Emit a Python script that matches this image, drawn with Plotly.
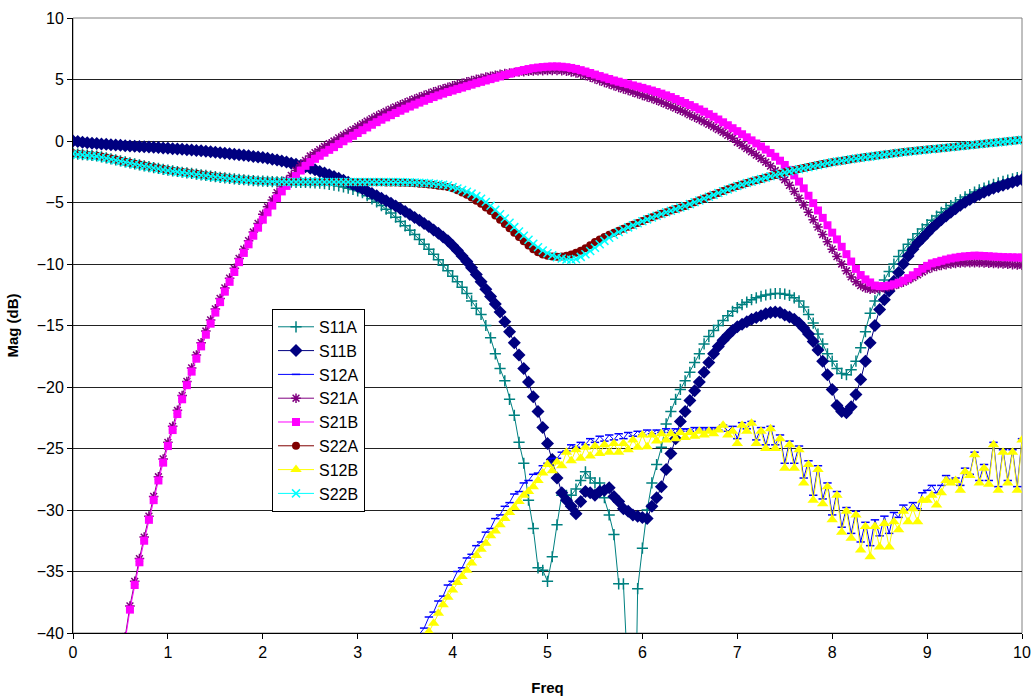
import plotly.graph_objects as go

# Frequency grid (0 to 10 in steps of 0.05)
freq = [round(i * 0.05, 2) for i in range(201)]
N = None

S11A = [-1.02, -1.06, -1.1, -1.14, -1.18, -1.22, -1.29, -1.37, -1.45, -1.53,
        -1.62, -1.7, -1.78, -1.86, -1.94, -2.02, -2.09, -2.16, -2.23, -2.3,
        -2.37, -2.43, -2.48, -2.54, -2.59, -2.64, -2.69, -2.75, -2.8, -2.85,
        -2.9, -2.95, -2.99, -3.04, -3.08, -3.12, -3.15, -3.19, -3.22, -3.25,
        -3.27, -3.29, -3.31, -3.32, -3.33, -3.34, -3.35, -3.36, -3.36, -3.37,
        -3.38, -3.4, -3.43, -3.47, -3.52, -3.58, -3.65, -3.74, -3.84, -3.94,
        -4.05, -4.2, -4.45, -4.7, -4.95, -5.25, -5.55, -5.85, -6.2, -6.55,
        -6.9, -7.25, -7.6, -8.0, -8.4, -8.8, -9.2, -9.65, -10.1, -10.55,
        -11.0, -11.45, -11.9, -12.4, -13.0, -13.6, -14.1, -15.0, -16.0, -17.3,
        -18.5, -19.5, -21.0, -22.3, -24.5, -26.2, -29.2, -31.5, -34.7, -34.9,
        -35.8, -33.8, -31.2, -28.8, -28.8, -28.8, -28.3, -27.6, -26.9, -27.4,
        -27.8, -27.8, -29.0, -30.4, -32.0, -36.0, -36.0, -44.0, -60.0, -36.4,
        -33.1, -30.0, -27.8, -26.3, -24.9, -23.0, -22.0, -21.0, -20.2, -19.5,
        -18.8, -18.0, -17.3, -16.5, -15.9, -15.4, -15.0, -14.6, -14.2, -13.85,
        -13.55, -13.3, -13.1, -12.9, -12.75, -12.62, -12.52, -12.45, -12.4, -12.4,
        -12.45, -12.55, -12.75, -13.0, -13.5, -14.1, -14.8, -15.7, -16.5, -17.3,
        -17.9, -18.5, -18.9, -19.0, -18.6, -17.9, -16.8, -15.5, -14.0, -13.0,
        -12.1, -11.3, -10.6, -10.0, -9.4, -8.9, -8.4, -8.0, -7.55, -7.15,
        -6.8, -6.45, -6.1, -5.8, -5.5, -5.25, -5.0, -4.78, -4.55, -4.35,
        -4.15, -3.98, -3.82, -3.67, -3.53, -3.4, -3.28, -3.17, -3.07, -2.97,
        -2.88]

S11B = [0.0, -0.05, -0.1, -0.14, -0.18, -0.21, -0.24, -0.27, -0.3, -0.33,
        -0.35, -0.38, -0.4, -0.42, -0.44, -0.46, -0.48, -0.5, -0.53, -0.56,
        -0.59, -0.62, -0.65, -0.68, -0.71, -0.74, -0.77, -0.8, -0.84, -0.88,
        -0.92, -0.95, -0.99, -1.03, -1.07, -1.11, -1.15, -1.2, -1.25, -1.3,
        -1.35, -1.41, -1.48, -1.55, -1.63, -1.71, -1.8, -1.89, -1.99, -2.1,
        -2.22, -2.34, -2.47, -2.6, -2.74, -2.88, -3.03, -3.19, -3.36, -3.53,
        -3.7, -3.88, -4.07, -4.26, -4.45, -4.65, -4.86, -5.07, -5.29, -5.51,
        -5.74, -5.97, -6.21, -6.45, -6.7, -6.96, -7.23, -7.51, -7.8, -8.1,
        -8.5, -8.9, -9.35, -9.8, -10.3, -10.85, -11.45, -12.05, -12.65, -13.25,
        -13.9, -14.7, -15.5, -16.4, -17.4, -18.5, -19.6, -20.8, -22.0, -23.3,
        -24.6, -25.9, -27.4, -28.6, -29.2, -29.7, -30.3, -29.3, -28.5, -28.6,
        -28.8, -28.5, -28.4, -28.2, -28.9, -29.3, -29.9, -30.1, -30.4, -30.5,
        -30.6, -30.7, -29.7, -29.0, -28.1, -26.7, -25.4, -24.2, -22.8, -22.0,
        -21.1, -20.3, -19.6, -18.8, -18.0, -17.3, -16.7, -16.2, -15.8, -15.4,
        -15.1, -14.9, -14.7, -14.5, -14.35, -14.2, -14.05, -13.95, -13.9, -13.95,
        -14.15, -14.3, -14.5, -14.8, -15.2, -15.7, -16.3, -17.0, -17.9, -19.0,
        -20.2, -21.5, -22.0, -22.1, -21.6, -20.6, -19.4, -17.9, -16.4, -15.0,
        -13.7, -12.9, -12.2, -11.4, -10.7, -10.0, -9.35, -8.8, -8.3, -7.9,
        -7.5, -7.1, -6.75, -6.4, -6.1, -5.8, -5.5, -5.22, -4.98, -4.75,
        -4.55, -4.35, -4.17, -4.0, -3.85, -3.72, -3.6, -3.48, -3.36, -3.24,
        -3.12]

S12A = [N] * 70 + [
        -43.2, -42.0, -40.9, -40.1, -39.6, -38.7, -38.3, -37.4, -37.0, -36.1,
        -35.8, -35.0, -34.7, -33.9, -33.6, -32.9, -32.6, -31.8, -31.5, -30.7,
        -30.4, -29.7, -29.4, -28.7, -28.5, -27.8, -27.6, -27.1, -27.0, -26.4,
        -26.2, -25.8, -25.8, -25.3, -25.2, -24.7, -24.9, -24.5, -24.7, -24.2,
        -24.5, -24.0, -24.4, -23.9, -24.3, -23.8, -24.2, -23.7, -24.0, -23.6,
        -23.9, -23.5, -23.8, -23.5, -23.7, -23.4, -23.7, -23.4, -23.6, -23.4,
        -23.6, -23.3, -23.5, -23.3, -23.5, -23.3, -23.5, -23.1, -23.6, -23.2,
        -24.2, -22.9, -23.4, -22.8, -24.3, -23.3, -24.7, -23.2, -24.7, -23.9,
        -26.2, -24.4, -26.2, -24.8, -27.4, -26.0, -28.8, -26.4, -29.1, -27.8,
        -30.4, -28.5, -31.4, -29.8, -31.9, -30.1, -32.6, -31.0, -32.9, -30.8,
        -32.1, -30.5, -31.9, -30.2, -30.6, -29.6, -30.0, -29.4, -29.9, -28.6,
        -28.4, -28.0, -28.6, -28.0, -27.2, -27.6, -27.4, -28.0, -26.6, -27.1,
        -25.3, -27.6, -26.3, -27.6, -24.5, -28.1, -25.1, -27.6, -25.1, -28.1,
        -24.2]

S21A = [N] * 10 + [
        -42.3, -40.3, -37.8, -35.8, -33.95, -32.2, -30.5, -28.9, -27.3, -25.85,
        -24.5, -23.2, -21.9, -20.7, -19.55, -18.45, -17.4, -16.4, -15.45, -14.55,
        -13.65, -12.8, -11.95, -11.15, -10.35, -9.55, -8.8, -8.1, -7.4, -6.7,
        -5.95, -5.35, -4.8, -4.2, -3.65, -3.2, -2.8, -2.4, -1.95, -1.57,
        -1.22, -0.95, -0.7, -0.45, -0.22, 0.0, 0.25, 0.48, 0.7, 0.92,
        1.17, 1.39, 1.61, 1.82, 2.02, 2.22, 2.41, 2.59, 2.77, 2.94,
        3.1, 3.26, 3.42, 3.57, 3.71, 3.85, 3.99, 4.12, 4.25, 4.37,
        4.48, 4.59, 4.7, 4.81, 4.91, 5.01, 5.1, 5.19, 5.27, 5.35,
        5.42, 5.48, 5.53, 5.57, 5.61, 5.64, 5.67, 5.69, 5.71, 5.72,
        5.73, 5.74, 5.74, 5.72, 5.68, 5.62, 5.54, 5.44, 5.32, 5.19,
        5.05, 4.91, 4.77, 4.63, 4.49, 4.36, 4.23, 4.1, 3.97, 3.84,
        3.71, 3.58, 3.45, 3.31, 3.16, 3.0, 2.84, 2.67, 2.5, 2.33,
        2.12, 1.94, 1.76, 1.56, 1.36, 1.15, 0.93, 0.7, 0.46, 0.22,
        -0.1, -0.36, -0.62, -0.88, -1.15, -1.42, -1.72, -2.04, -2.4, -2.8,
        -3.15, -3.6, -4.1, -4.65, -5.2, -5.8, -6.4, -7.0, -7.6, -8.2,
        -8.8, -9.4, -10.0, -10.55, -11.05, -11.45, -11.75, -11.95, -12.05, -12.05,
        -12.0, -11.95, -11.85, -11.75, -11.62, -11.47, -11.3, -11.1, -10.88, -10.65,
        -10.45, -10.3, -10.2, -10.12, -10.05, -10.0, -9.95, -9.92, -9.9, -9.9,
        -9.9, -9.9, -9.92, -9.94, -9.96, -9.98, -10.0, -10.02, -10.05, -10.08,
        -10.1]

S21B = [N] * 10 + [
        -42.6, -40.6, -38.1, -36.1, -34.25, -32.5, -30.8, -29.2, -27.6, -26.15,
        -24.8, -23.5, -22.2, -21.0, -19.85, -18.75, -17.7, -16.7, -15.75, -14.85,
        -13.95, -13.1, -12.25, -11.45, -10.65, -9.85, -9.1, -8.4, -7.7, -7.05,
        -6.4, -5.8, -5.25, -4.65, -4.1, -3.65, -3.25, -2.85, -2.4, -2.02,
        -1.72, -1.45, -1.2, -0.95, -0.72, -0.5, -0.25, -0.02, 0.2, 0.42,
        0.65, 0.88, 1.1, 1.32, 1.53, 1.73, 1.92, 2.1, 2.28, 2.46,
        2.63, 2.8, 2.96, 3.12, 3.27, 3.42, 3.57, 3.71, 3.85, 3.98,
        4.1, 4.22, 4.34, 4.46, 4.58, 4.7, 4.81, 4.92, 5.03, 5.14,
        5.25, 5.36, 5.47, 5.58, 5.68, 5.77, 5.85, 5.92, 5.97, 6.01,
        6.04, 6.06, 6.06, 6.04, 6.0, 5.94, 5.86, 5.76, 5.65, 5.53,
        5.4, 5.28, 5.16, 5.04, 4.92, 4.82, 4.72, 4.62, 4.52, 4.42,
        4.32, 4.21, 4.1, 3.98, 3.85, 3.71, 3.57, 3.41, 3.25, 3.09,
        2.92, 2.75, 2.57, 2.38, 2.18, 1.97, 1.75, 1.52, 1.28, 1.04,
        0.8, 0.55, 0.3, 0.05, -0.2, -0.45, -0.7, -0.98, -1.28, -1.6,
        -1.95, -2.35, -2.8, -3.3, -3.85, -4.45, -5.05, -5.65, -6.25, -6.85,
        -7.45, -8.0, -8.6, -9.2, -9.8, -10.4, -10.9, -11.25, -11.5, -11.75,
        -11.8, -11.8, -11.75, -11.65, -11.52, -11.35, -11.15, -10.92, -10.65, -10.38,
        -10.15, -9.95, -9.85, -9.74, -9.64, -9.55, -9.48, -9.42, -9.38, -9.35,
        -9.32, -9.33, -9.35, -9.37, -9.4, -9.42, -9.44, -9.45, -9.46, -9.47,
        -9.48]

S22A = [-1.0, -1.04, -1.08, -1.12, -1.16, -1.2, -1.27, -1.35, -1.43, -1.51,
        -1.6, -1.68, -1.76, -1.84, -1.92, -2.0, -2.07, -2.14, -2.21, -2.28,
        -2.35, -2.41, -2.46, -2.52, -2.57, -2.62, -2.67, -2.73, -2.78, -2.83,
        -2.88, -2.93, -2.97, -3.02, -3.06, -3.1, -3.13, -3.17, -3.2, -3.23,
        -3.25, -3.27, -3.29, -3.3, -3.31, -3.32, -3.33, -3.34, -3.34, -3.35,
        -3.35, -3.35, -3.35, -3.35, -3.35, -3.35, -3.35, -3.35, -3.35, -3.35,
        -3.35, -3.35, -3.35, -3.35, -3.36, -3.36, -3.37, -3.37, -3.38, -3.39,
        -3.4, -3.42, -3.44, -3.47, -3.5, -3.54, -3.58, -3.63, -3.68, -3.74,
        -3.85, -4.0, -4.18, -4.38, -4.6, -4.85, -5.1, -5.4, -5.7, -6.05,
        -6.4, -6.75, -7.1, -7.45, -7.8, -8.15, -8.5, -8.8, -9.05, -9.22,
        -9.33, -9.4, -9.42, -9.4, -9.33, -9.22, -9.08, -8.92, -8.72, -8.47,
        -8.22, -8.0, -7.8, -7.62, -7.45, -7.29, -7.13, -6.97, -6.81, -6.66,
        -6.5, -6.35, -6.2, -6.06, -5.92, -5.79, -5.66, -5.53, -5.4, -5.28,
        -5.12, -4.97, -4.82, -4.67, -4.52, -4.37, -4.22, -4.07, -3.93, -3.79,
        -3.65, -3.53, -3.41, -3.3, -3.19, -3.08, -2.97, -2.86, -2.76, -2.66,
        -2.55, -2.46, -2.37, -2.28, -2.2, -2.12, -2.04, -1.96, -1.88, -1.8,
        -1.72, -1.66, -1.6, -1.54, -1.48, -1.42, -1.36, -1.31, -1.26, -1.2,
        -1.15, -1.1, -1.05, -1.0, -0.95, -0.9, -0.86, -0.82, -0.78, -0.74,
        -0.7, -0.66, -0.62, -0.58, -0.54, -0.5, -0.46, -0.42, -0.38, -0.34,
        -0.3, -0.26, -0.22, -0.18, -0.14, -0.1, -0.06, -0.02, 0.02, 0.06,
        0.1]

S12B = [N] * 72 + [
        -42.5, -41.6, -40.7, -39.9, -39.2, -38.4, -37.7, -37.1,
        -36.5, -35.9, -35.4, -34.9, -34.3, -33.7, -33.2, -32.7, -32.1, -31.7,
        -31.2, -30.7, -30.2, -29.8, -29.3, -28.8, -28.5, -28.1, -27.6, -27.0,
        -26.3, -26.8, -26.1, -26.4, -25.3, -26.0, -25.1, -25.8, -24.9, -25.6,
        -24.8, -25.4, -24.7, -25.3, -24.6, -25.3, -24.6, -25.1, -24.3, -24.9,
        -23.9, -24.85, -23.9, -24.4, -23.8, -24.3, -23.8, -24.2, -23.7, -24.1,
        -23.7, -24.0, -23.6, -23.9, -23.6, -23.8, -23.5, -23.1, -23.9, -23.6,
        -24.6, -23.1, -23.6, -22.95, -24.6, -23.6, -25.0, -23.4, -25.0, -24.2,
        -26.6, -24.7, -26.6, -25.1, -27.8, -26.3, -29.2, -26.7, -29.5, -28.1,
        -30.8, -28.8, -31.8, -30.1, -32.3, -30.4, -33.25, -31.35, -33.8, -31.35,
        -33.0, -31.1, -33.0, -30.95, -31.6, -30.1, -30.95, -29.9, -30.95, -29.2,
        -29.2, -28.8, -29.6, -28.6, -27.6, -27.8, -27.6, -28.4, -26.9, -27.2,
        -25.5, -27.8, -26.6, -27.9, -24.7, -28.4, -25.3, -27.8, -25.3, -28.4,
        -24.3]

S22B = [-1.05, -1.09, -1.13, -1.17, -1.21, -1.25, -1.32, -1.4, -1.48, -1.56,
        -1.65, -1.73, -1.81, -1.89, -1.97, -2.05, -2.12, -2.19, -2.26, -2.33,
        -2.4, -2.46, -2.51, -2.57, -2.62, -2.67, -2.72, -2.78, -2.83, -2.88,
        -2.92, -2.97, -3.01, -3.05, -3.09, -3.13, -3.16, -3.19, -3.22, -3.25,
        -3.27, -3.29, -3.3, -3.31, -3.32, -3.33, -3.33, -3.33, -3.33, -3.33,
        -3.33, -3.33, -3.33, -3.33, -3.33, -3.33, -3.33, -3.33, -3.33, -3.33,
        -3.33, -3.33, -3.33, -3.33, -3.33, -3.33, -3.33, -3.33, -3.34, -3.34,
        -3.35, -3.36, -3.37, -3.39, -3.41, -3.44, -3.47, -3.51, -3.56, -3.62,
        -3.75, -3.86, -3.98, -4.12, -4.28, -4.48, -4.7, -4.96, -5.26, -5.6,
        -5.95, -6.3, -6.65, -7.0, -7.35, -7.7, -8.03, -8.35, -8.64, -8.9,
        -9.12, -9.3, -9.45, -9.56, -9.63, -9.65, -9.6, -9.42, -9.2, -8.95,
        -8.68, -8.4, -8.12, -7.86, -7.62, -7.4, -7.2, -7.02, -6.85, -6.69,
        -6.52, -6.37, -6.22, -6.08, -5.94, -5.8, -5.67, -5.54, -5.41, -5.29,
        -5.13, -4.98, -4.83, -4.68, -4.53, -4.38, -4.23, -4.08, -3.94, -3.8,
        -3.66, -3.54, -3.42, -3.31, -3.2, -3.09, -2.98, -2.87, -2.77, -2.67,
        -2.56, -2.47, -2.38, -2.29, -2.21, -2.13, -2.05, -1.97, -1.89, -1.81,
        -1.73, -1.67, -1.61, -1.55, -1.49, -1.43, -1.37, -1.32, -1.27, -1.21,
        -1.16, -1.11, -1.06, -1.01, -0.96, -0.91, -0.87, -0.83, -0.79, -0.75,
        -0.71, -0.67, -0.63, -0.59, -0.55, -0.51, -0.47, -0.43, -0.39, -0.35,
        -0.31, -0.27, -0.23, -0.19, -0.15, -0.11, -0.07, -0.03, 0.01, 0.05,
        0.09]

series = [
    ("S11A", S11A, "#008080", "cross-thin", 8),
    ("S11B", S11B, "#000080", "diamond", 10),
    ("S12A", S12A, "#0000FF", "line-ew", 6),
    ("S21A", S21A, "#800080", "asterisk", 8),
    ("S21B", S21B, "#FF00FF", "square", 8),
    ("S22A", S22A, "#800000", "circle", 8),
    ("S12B", S12B, "#FFFF00", "triangle-up", 10),
    ("S22B", S22B, "#00FFFF", "x-thin", 8),
]

fig = go.Figure()
for name, ys, color, sym, size in series:
    thin = ("thin" in sym) or sym in ("asterisk", "line-ew")
    fig.add_trace(go.Scatter(
        x=freq, y=ys, name=name, mode="lines+markers",
        line=dict(color=color, width=1),
        marker=dict(symbol=sym, size=size, color=color,
                    line=dict(color=color, width=1.5 if thin else 0)),
        connectgaps=False,
    ))

font_family = "Liberation Sans, Arial, sans-serif"
fig.update_layout(
    width=1035, height=700,
    margin=dict(l=73, r=13, t=18, b=67, autoexpand=False),
    paper_bgcolor="white", plot_bgcolor="white",
    font=dict(family=font_family, size=16, color="black"),
    showlegend=True,
    legend=dict(x=0.2097, y=0.527, xanchor="left", yanchor="top",
                bgcolor="white", bordercolor="black", borderwidth=1,
                font=dict(family=font_family, size=16, color="black"),
                tracegroupgap=0, itemwidth=36),
    xaxis=dict(range=[0, 10], tickmode="linear", tick0=0, dtick=1, automargin=False,
               showgrid=False, zeroline=False, showline=True, linecolor="black", linewidth=1,
               ticks="outside", ticklen=5, tickcolor="black",
               tickfont=dict(size=16), ticklabeloverflow="allow",
               title=dict(text="<b>Freq</b>", font=dict(size=15), standoff=22)),
    yaxis=dict(range=[-40, 10], tickmode="linear", tick0=-40, dtick=5, automargin=False,
               showgrid=True, gridcolor="#222222", gridwidth=1, zeroline=False,
               showline=True, linecolor="black", linewidth=1,
               ticks="outside", ticklen=5, tickcolor="black",
               tickfont=dict(size=16),
               title=dict(text="<b>Mag (dB)</b>", font=dict(size=15), standoff=14)),
    shapes=[dict(type="rect", xref="paper", yref="paper", x0=0, y0=0, x1=1, y1=1,
                 line=dict(color="#808080", width=1), layer="below")],
)

# Remove the default page margin so the figure fills the window exactly; hide the modebar.
fig.write_html("out.html", config={"displayModeBar": False},
               post_script="document.body.style.margin='0';")
